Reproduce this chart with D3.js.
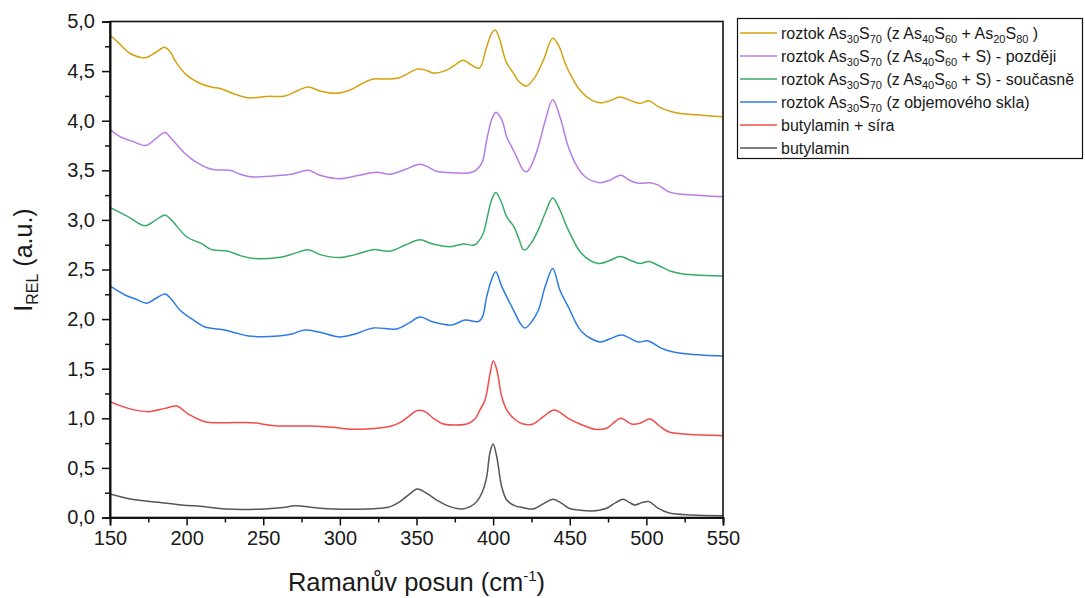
<!DOCTYPE html>
<html>
<head>
<meta charset="utf-8">
<script src="https://cdn.jsdelivr.net/npm/d3@7/dist/d3.min.js"></script>
<style>
  html, body { margin: 0; padding: 0; background: #fff; }
  svg { display: block; font-family: "Liberation Sans", Arial, sans-serif; }
</style>
</head>
<body>
<svg id="chart" width="1085" height="598"></svg>
<script>
// Raman spectra, stacked with a vertical offset (Raman shift in cm^-1, relative intensity)
const goldX = [150,156,163,172.8,180,185.5,189,193.5,200,209.8,216,222.9,231,240.3,252,264.2,272,279.4,287,296.8,306.6,314,321.8,330,338.1,345,350.1,356,361,369.7,375,380.5,386,391,395.8,399,401.4,404.5,406.7,408.9,413.2,416.5,419.7,422,427.3,432.8,438.9,443.6,446.9,451,455.6,462,469.7,476,482.8,490,495.8,501.7,508,516.5,524,531.7,540,550];
const goldY = [4.86,4.78,4.68,4.635,4.69,4.74,4.70,4.58,4.46,4.37,4.34,4.32,4.27,4.23,4.245,4.25,4.30,4.34,4.30,4.276,4.31,4.37,4.42,4.42,4.43,4.48,4.52,4.51,4.48,4.51,4.56,4.61,4.56,4.53,4.745,4.88,4.915,4.81,4.68,4.58,4.48,4.40,4.36,4.35,4.44,4.61,4.83,4.73,4.58,4.45,4.33,4.23,4.18,4.20,4.24,4.20,4.175,4.20,4.14,4.09,4.07,4.06,4.05,4.04];

const purpleX = [150,156.5,165,173.3,180,185.9,190,198.9,205.5,216.4,228.3,235,241.4,257.7,268.6,279.4,287,300,311,324,332.7,343,352.3,358,363.2,372,380.5,387,392.5,395.8,399,401.9,405.6,409,411,415.5,419.7,421.9,425,429.5,434,438.9,443.6,449,454,460,469.7,476,483.4,489,494.7,502.4,507.8,514.3,522,531.7,540,550];
const purpleY = [3.91,3.84,3.79,3.75,3.82,3.88,3.82,3.67,3.59,3.51,3.50,3.46,3.435,3.445,3.46,3.50,3.45,3.415,3.445,3.48,3.46,3.51,3.56,3.53,3.49,3.475,3.47,3.485,3.57,3.805,4.01,4.085,4.01,3.83,3.77,3.63,3.50,3.485,3.55,3.74,4.0,4.21,4.04,3.74,3.56,3.435,3.375,3.40,3.45,3.40,3.37,3.375,3.35,3.285,3.26,3.25,3.24,3.235];

const greenX = [150,162,172.8,180,185.9,190,200,209.8,216.4,227.2,235,244.6,259.8,270,279.4,287,300,310,321.8,332.7,343,352.3,360,371.9,380.5,388.2,393.6,395.8,399,401.7,405.6,408.9,413.6,417,419.7,421.3,425,429.5,434,438.9,443.6,449,457.8,468.6,476,482.8,490,495.8,501.7,508,516.5,524,531.7,550];
const greenY = [3.127,3.03,2.94,3.00,3.05,3.00,2.83,2.76,2.70,2.685,2.64,2.61,2.62,2.66,2.70,2.65,2.62,2.65,2.70,2.685,2.75,2.80,2.76,2.73,2.757,2.75,2.865,3.0,3.2,3.275,3.17,3.03,2.93,2.80,2.70,2.70,2.77,2.90,3.07,3.22,3.10,2.90,2.66,2.56,2.59,2.63,2.59,2.56,2.58,2.54,2.48,2.455,2.445,2.435];

const blueX = [150,159.8,167,174,180,185.9,190,195.7,205.5,212,225,232,240.3,259.8,268.6,277.2,287,300,310,321.8,337.1,345,352.3,361,373,381.6,390.3,393,395.8,399,401.7,405.6,411,414.3,418,420.8,425,429.5,434,438.9,443.6,449,457.8,469.7,476,483.9,494.7,501.2,510,517,525.2,538,550];
const blueY = [2.334,2.243,2.20,2.16,2.21,2.253,2.20,2.09,1.98,1.92,1.89,1.86,1.83,1.83,1.85,1.89,1.867,1.82,1.85,1.91,1.90,1.96,2.02,1.97,1.94,1.99,1.975,2.02,2.226,2.40,2.478,2.33,2.16,2.06,1.95,1.91,1.97,2.09,2.33,2.51,2.29,2.125,1.873,1.77,1.80,1.84,1.77,1.78,1.705,1.67,1.65,1.635,1.628];

const redX = [150,162,175,185.9,193.5,201.1,212,225,242.5,257.7,280.5,295,308.8,324,333,339.2,345,350.1,355.5,361,367.5,382.8,388,391.4,394.7,398,400.1,402.4,405.6,408.9,414,419.7,426.2,433,440,449,457,466.5,474,479,483.4,490.4,495.8,502.4,508,514.3,527.3,540,550];
const redY = [1.167,1.10,1.067,1.10,1.124,1.043,0.966,0.956,0.956,0.925,0.922,0.91,0.889,0.90,0.92,0.956,1.02,1.077,1.067,1.0,0.943,0.943,0.99,1.084,1.184,1.45,1.581,1.49,1.22,1.084,0.99,0.943,0.943,1.02,1.084,1.0,0.94,0.889,0.90,0.96,1.0,0.943,0.95,0.993,0.93,0.865,0.839,0.83,0.825];

const grayX = [150,164.2,181.5,196.8,212,225,251.1,263,270.7,287,302.2,326.2,333,339.2,345,350.5,357,363.2,370,379.5,385,389.3,393,395.8,398,400,402.4,405.6,408.9,414,419.7,426.2,433,438.9,444,450,455.6,464.3,474,480,484.9,489,492.6,497,501.7,507,514.3,529.6,550];
const grayY = [0.237,0.183,0.153,0.126,0.109,0.086,0.086,0.10,0.119,0.093,0.083,0.093,0.11,0.16,0.23,0.287,0.24,0.176,0.12,0.086,0.11,0.16,0.26,0.41,0.66,0.74,0.61,0.31,0.176,0.12,0.099,0.086,0.14,0.183,0.15,0.09,0.076,0.066,0.093,0.15,0.183,0.15,0.126,0.15,0.16,0.10,0.048,0.025,0.018];

// Legend labels: [text, subscript?] pieces
const legendLabels = [
  [["roztok As",0],["30",1],["S",0],["70",1],[" (z As",0],["40",1],["S",0],["60",1],[" + As",0],["20",1],["S",0],["80",1],[" )",0]],
  [["roztok As",0],["30",1],["S",0],["70",1],[" (z As",0],["40",1],["S",0],["60",1],[" + S) - později",0]],
  [["roztok As",0],["30",1],["S",0],["70",1],[" (z As",0],["40",1],["S",0],["60",1],[" + S) - současně",0]],
  [["roztok As",0],["30",1],["S",0],["70",1],[" (z objemového skla)",0]],
  [["butylamin + síra",0]],
  [["butylamin",0]]
];
const seriesColors = ["#d4a20e", "#b77be6", "#3aaa6a", "#2c7be5", "#f24b4b", "#555555"];
const seriesX = [goldX, purpleX, greenX, blueX, redX, grayX];
const seriesY = [goldY, purpleY, greenY, blueY, redY, grayY];

const xMajor = [150,200,250,300,350,400,450,500,550];
const yMajor = [0,0.5,1,1.5,2,2.5,3,3.5,4,4.5,5];

const svg = d3.select("#chart");
const plotL = 110, plotR = 723, plotT = 21.5, plotB = 517.5;

const x = d3.scaleLinear().domain([150, 550]).range([plotL, plotR]);
const y = d3.scaleLinear().domain([0, 5]).range([plotB, plotT]);

svg.append("defs").append("clipPath").attr("id", "plotClip")
  .append("rect").attr("x", plotL).attr("y", plotT).attr("width", plotR - plotL).attr("height", plotB - plotT);

// Spectra
const line = d3.line().x(d => x(d[0])).y(d => y(d[1])).curve(d3.curveCatmullRom.alpha(0.5));
const plot = svg.append("g").attr("clip-path", "url(#plotClip)");
seriesX.forEach((xs, i) => {
  const pts = xs.map((v, j) => [v, seriesY[i][j]]);
  plot.append("path").datum(pts)
    .attr("d", line)
    .attr("fill", "none")
    .attr("stroke", seriesColors[i])
    .attr("stroke-width", 1.5)
    .attr("stroke-linejoin", "round");
});

// Frame
svg.append("rect").attr("x", plotL).attr("y", plotT).attr("width", plotR - plotL).attr("height", plotB - plotT)
  .attr("fill", "none").attr("stroke", "#111").attr("stroke-width", 1.6);

const comma = v => d3.format(".1f")(v).replace(".", ",");

// Axes
const xAxis = svg.append("g").attr("transform", `translate(0,${plotB})`)
  .call(d3.axisBottom(x).tickValues(xMajor).tickSize(8).tickPadding(5).tickFormat(d3.format("d")));
const xMinor = svg.append("g").attr("transform", `translate(0,${plotB})`)
  .call(d3.axisBottom(x).tickValues(d3.range(175, 550, 50)).tickSize(5).tickFormat(""));
const yAxis = svg.append("g").attr("transform", `translate(${plotL},0)`)
  .call(d3.axisLeft(y).tickValues(yMajor).tickSize(8).tickPadding(7).tickFormat(comma));
const yMinor = svg.append("g").attr("transform", `translate(${plotL},0)`)
  .call(d3.axisLeft(y).tickValues(d3.range(0.25, 5, 0.5)).tickSize(5).tickFormat(""));

[xAxis, xMinor, yAxis, yMinor].forEach(g => {
  g.select(".domain").attr("stroke", "#111").attr("stroke-width", 1.6);
  g.selectAll(".tick line").attr("stroke", "#111").attr("stroke-width", 1.5);
  g.selectAll(".tick text").attr("font-size", 20).attr("fill", "#1a1a1a")
    .attr("font-family", "'Liberation Sans', Arial, sans-serif");
});

// Axis titles
const xt = svg.append("text").attr("x", (plotL + plotR) / 2).attr("y", 591)
  .attr("text-anchor", "middle").attr("font-size", 25.5).attr("fill", "#1a1a1a");
xt.append("tspan").text("Ramanův posun (cm");
xt.append("tspan").attr("font-size", 15).attr("dy", -10).text("-1");
xt.append("tspan").attr("dy", 10).text(")");

const yt = svg.append("text").attr("transform", "translate(32,260) rotate(-90)")
  .attr("text-anchor", "middle").attr("font-size", 25).attr("fill", "#1a1a1a");
yt.append("tspan").text("I");
yt.append("tspan").attr("font-size", 16).attr("dy", 6).text("REL");
yt.append("tspan").attr("dy", -6).text(" (a.u.)");

// Legend
const lg = svg.append("g");
lg.append("rect").attr("x", 737.5).attr("y", 18.5).attr("width", 345).attr("height", 140)
  .attr("fill", "#fff").attr("stroke", "#111").attr("stroke-width", 1.2);
legendLabels.forEach((pieces, i) => {
  const cy = 33 + i * 23;
  lg.append("line").attr("x1", 740).attr("x2", 777).attr("y1", cy).attr("y2", cy)
    .attr("stroke", seriesColors[i]).attr("stroke-width", 1.5);
  const t = lg.append("text").attr("x", 781).attr("y", cy + 5.5).attr("font-size", 16).attr("fill", "#1a1a1a");
  let shifted = false;
  pieces.forEach(([txt, sub]) => {
    const ts = t.append("tspan").text(txt);
    if (sub && !shifted) { ts.attr("dy", 4).attr("font-size", 11); shifted = true; }
    else if (sub) { ts.attr("font-size", 11); }
    else if (!sub && shifted) { ts.attr("dy", -4); shifted = false; }
  });
});
</script>
</body>
</html>
